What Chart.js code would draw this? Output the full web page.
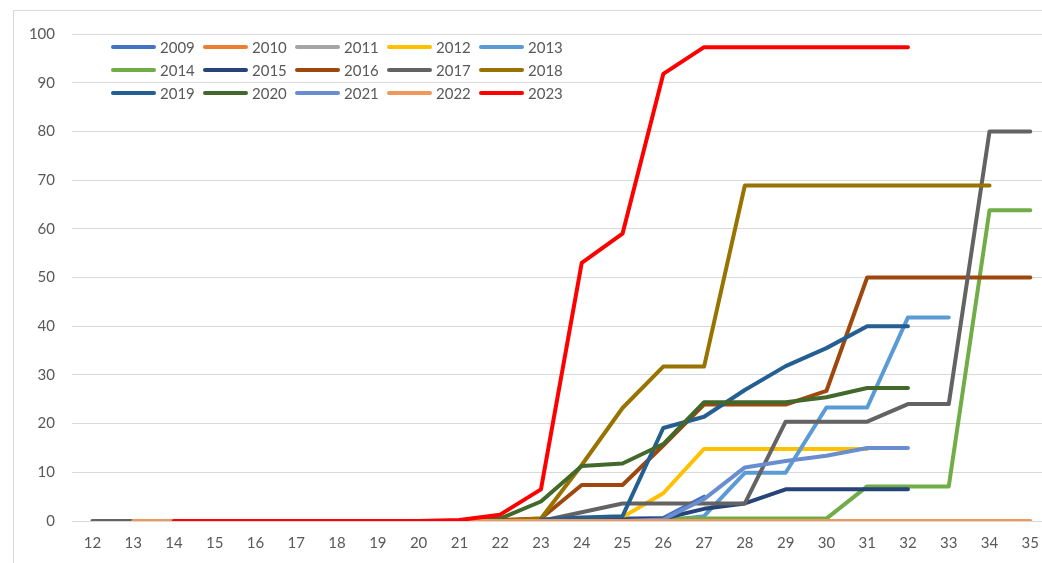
<!DOCTYPE html>
<html>
<head>
<meta charset="utf-8">
<script src="https://cdn.jsdelivr.net/npm/chart.js@4"></script>
<style>
    html, body { margin: 0; padding: 0; background: #fff; overflow: hidden; }
    #box {
        position: absolute;
        left: 13px;
        top: 10px;
        width: 1038px;
        height: 560px;
        border: 1px solid #d9d9d9;
    }
    #chart { position: relative; top: -3px; }
</style>
</head>
<body>
<div id="box"><canvas id="chart" width="1038" height="560"></canvas></div>
<script>
// semaines (axe x)
let weeks = ['12', '13', '14', '15', '16', '17', '18', '19', '20', '21', '22', '23', '24', '25', '26', '27', '28', '29', '30', '31', '32', '33', '34', '35'];
let yTicks = [0, 10, 20, 30, 40, 50, 60, 70, 80, 90, 100];

let years = ['2009', '2010', '2011', '2012', '2013', '2014', '2015', '2016', '2017', '2018', '2019', '2020', '2021', '2022', '2023'];
let colors = ['#4472C4', '#ED7D31', '#A5A5A5', '#FFC000', '#5B9BD5', '#70AD47', '#264478', '#9E480E', '#636363', '#997300', '#255E91', '#43682B', '#698ED0', '#F1975A', '#FF0000'];

let n = null;
//            12 13 14 15 16 17 18 19 20 21   22   23   24    25    26    27    28    29    30    31    32    33    34    35
let v2009 = [n, n, n, n, n, n, n, n, n, 0, 0, 0, 0.3, 0.5, 0.6, 5.0, n, n, n, n, n, n, n, n];
let v2010 = [n, n, n, n, n, n, n, n, 0, 0, 0, 0, 0, 0, 0, 0, 0, 0, 0, 0, n, n, n, n];
let v2011 = [n, n, n, n, n, n, n, n, 0, 0, 0, 0, 0, 0, 0, 0, 0, 0, 0, n, n, n, n, n];
let v2012 = [n, n, n, n, n, n, n, n, n, n, 0, 0, 0.2, 0.8, 5.7, 14.8, 14.8, 14.8, 14.8, 14.8, n, n, n, n];
let v2013 = [n, n, n, n, n, n, n, n, n, n, 0, 0, 0, 0, 0, 1, 9.9, 9.9, 23.3, 23.3, 41.8, 41.8, n, n];
let v2014 = [n, n, n, n, n, n, n, n, n, n, 0, 0, 0, 0, 0.5, 0.5, 0.5, 0.5, 0.5, 7.1, 7.1, 7.1, 63.8, 63.8];
let v2015 = [n, n, n, n, n, n, n, n, n, n, n, 0, 0.2, 0.3, 0.5, 2.5, 3.6, 6.5, 6.5, 6.5, 6.5, n, n, n];
let v2016 = [n, n, n, n, n, n, n, n, n, 0, 0.2, 0.5, 7.4, 7.4, 15.5, 23.9, 23.9, 23.9, 26.7, 50, 50, 50, 50, 50];
let v2017 = [0, 0, 0, 0, 0, 0, 0, 0, 0, 0, 0, 0, 1.8, 3.6, 3.6, 3.6, 3.6, 20.4, 20.4, 20.4, 24, 24, 80, 80];
let v2018 = [n, n, n, n, n, n, n, n, n, n, 0, 0.5, 11.5, 23.2, 31.7, 31.7, 68.9, 68.9, 68.9, 68.9, 68.9, 68.9, 68.9, n];
let v2019 = [n, n, n, n, n, n, n, n, n, n, n, 0.3, 0.7, 1.0, 19.1, 21.4, 26.9, 31.8, 35.5, 40, 40, n, n, n];
let v2020 = [n, n, n, n, n, n, n, n, n, 0, 0.5, 4, 11.3, 11.8, 15.8, 24.4, 24.4, 24.4, 25.4, 27.3, 27.3, n, n, n];
let v2021 = [n, n, n, n, n, n, n, n, n, n, n, n, n, 0, 0.3, 4.5, 11, 12.3, 13.4, 15, 15, n, n, n];
let v2022 = [n, 0, 0, 0, 0, 0, 0, 0, 0, 0, 0, 0, 0, 0, 0, 0, 0, 0, 0, 0, 0, 0, 0, 0];
let v2023 = [n, n, 0, 0, 0, 0, 0, 0, 0, 0.2, 1.3, 6.5, 53, 59, 91.8, 97.3, 97.3, 97.3, 97.3, 97.3, 97.3, n, n, n];

let values = [v2009, v2010, v2011, v2012, v2013, v2014, v2015, v2016, v2017, v2018, v2019, v2020, v2021, v2022, v2023];

let font = 'Lato, "Open Sans", sans-serif';
let textColor = '#595959';

// legende dessinee dans la zone du graphique, 5 colonnes
let insideLegend = {
    id: 'insideLegend',
    afterDatasetsDraw: function (chart) {
        let ctx = chart.ctx;
        let area = chart.chartArea;
        ctx.save();
        ctx.font = '15px ' + font;
        ctx.textBaseline = 'middle';
        ctx.textAlign = 'left';
        chart.data.datasets.forEach(function (ds, i) {
            let col = i % 5;
            let row = Math.floor(i / 5);
            let x = area.left + 41 + col * 92;
            let y = area.top + 13 + row * 23;
            ctx.strokeStyle = ds.borderColor;
            ctx.lineWidth = 4;
            ctx.lineCap = 'round';
            ctx.beginPath();
            ctx.moveTo(x, y);
            ctx.lineTo(x + 41, y);
            ctx.stroke();
            ctx.fillStyle = textColor;
            ctx.fillText(ds.label, x + 47, y + 1);
        });
        ctx.restore();
    }
};

let datasets = [];
for (let i = 0; i < years.length; i++) {
    datasets.push({
        label: years[i],
        data: values[i],
        borderColor: colors[i],
        backgroundColor: colors[i],
        borderWidth: 4,
        borderCapStyle: 'round',
        borderJoinStyle: 'round',
        pointRadius: 0,
        fill: false,
        tension: 0,
        spanGaps: false,
        order: years.length - i
    });
}

const ctx = document.getElementById('chart');

new Chart(ctx, {
    type: 'line',
    data: {
        labels: weeks,
        datasets: datasets
    },
    options: {
        responsive: false,
        animation: false,
        layout: { padding: { top: 20, right: 0, left: 0, bottom: 0 } },
        plugins: {
            legend: { display: false },
            tooltip: { enabled: false }
        },
        scales: {
            x: {
                offset: true,
                grid: { display: false, drawTicks: false },
                border: { display: true, color: '#d9d9d9', width: 1 },
                ticks: {
                    color: textColor,
                    font: { family: font, size: 15 },
                    padding: 13,
                    maxRotation: 0,
                    autoSkip: false
                },
                afterFit: function (scale) { scale.height = 47; }
            },
            y: {
                min: 0,
                max: 100,
                afterBuildTicks: function (scale) {
                    scale.ticks = yTicks.map(function (v) { return { value: v }; });
                },
                grid: { color: '#d9d9d9', lineWidth: 1, drawTicks: false },
                border: { display: false },
                ticks: {
                    color: textColor,
                    font: { family: font, size: 15 },
                    padding: 17
                },
                afterFit: function (scale) { scale.width = 58; }
            }
        }
    },
    plugins: [insideLegend]
});
</script>
</body>
</html>
